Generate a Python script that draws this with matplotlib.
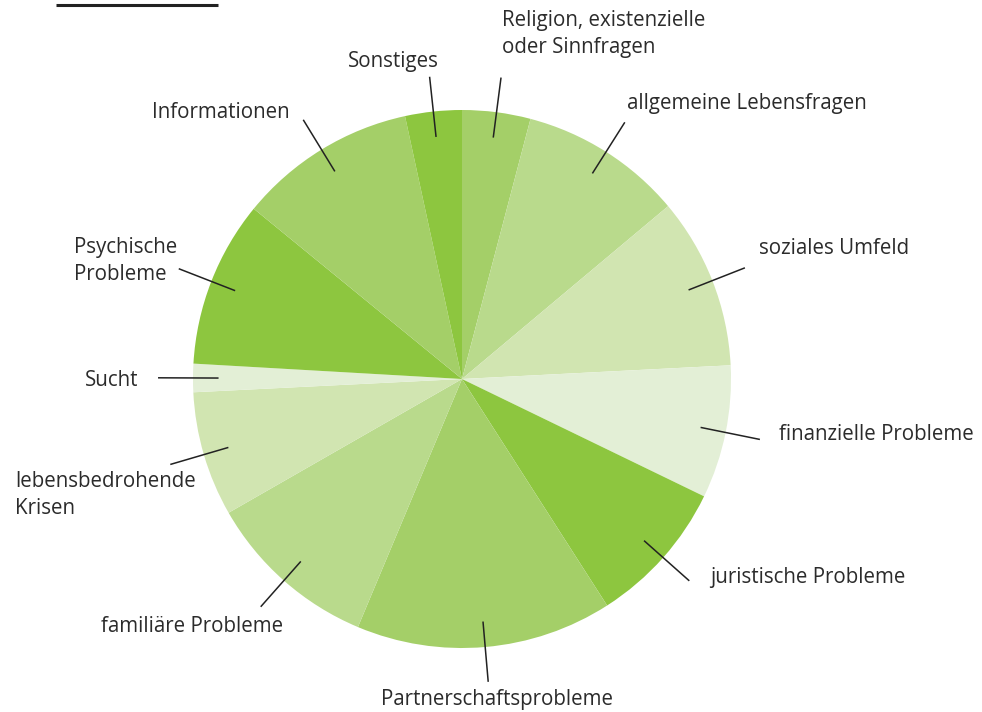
import numpy as np
import matplotlib
matplotlib.use("Agg")
import matplotlib.pyplot as plt

# ---- data (percent shares, clockwise from 12 o'clock) ----
categories = [
    "Religion, existenzielle\noder Sinnfragen",
    "allgemeine Lebensfragen",
    "soziales Umfeld",
    "finanzielle Probleme",
    "juristische Probleme",
    "Partnerschaftsprobleme",
    "familiäre Probleme",
    "lebensbedrohende\nKrisen",
    "Sucht",
    "Psychische\nProbleme",
    "Informationen",
    "Sonstiges",
]
values = [4.1, 9.8, 10.3, 8.0, 8.75, 15.4, 10.4, 7.5, 1.7, 10.0, 10.7, 3.4]

# ---- styling ----
DARK, MED, LMED, LIGHT, LLIGHT = "#8dc63f", "#a4cf68", "#b9da8c", "#d1e5b1", "#e3efd6"
colors = [MED, LMED, LIGHT, LLIGHT, DARK, MED, LMED, LIGHT, LLIGHT, DARK, MED, DARK]

W, H = 982, 712
CX, CY, R = 462, 379, 269  # pixel layout of the pie

fig = plt.figure(figsize=(W / 100, H / 100), dpi=100)
ax = fig.add_axes([0, 0, 1, 1])

wedges, _ = ax.pie(values, colors=colors, startangle=90, counterclock=False,
                   radius=1.0, center=(0, 0), frame=True,
                   wedgeprops=dict(linewidth=0))
ax.set_xlim(-CX / R, (W - CX) / R)
ax.set_ylim(-(H - CY) / R, CY / R)
ax.set_aspect("equal")
ax.axis("off")

def px(x, y):
    return ((x - CX) / R, (CY - y) / R)

# label anchor positions in pixels (x, centre y of the text block, alignment)
label_pos = [
    (502, 34, "left"), (627, 103, "left"), (759, 249, "left"), (779, 435, "left"),
    (710, 578, "left"), (497, 700, "center"), (101, 627, "left"), (15, 495, "left"),
    (85, 381, "left"), (74, 261, "left"), (152, 112, "left"), (348, 61, "left"),
]

for w, lab, (lx, ly, ha) in zip(wedges, categories, label_pos):
    mid = np.deg2rad((w.theta1 + w.theta2) / 2)
    r_in, r_out = 0.905, 1.13
    ax.plot([r_in * np.cos(mid), r_out * np.cos(mid)],
            [r_in * np.sin(mid), r_out * np.sin(mid)],
            color="#222222", lw=1.1, solid_capstyle="butt")
    x, y = px(lx, ly)
    ax.text(x, y, lab, ha=ha, va="center", fontsize=14.8, family="Open Sans",
            color="#2b2b2b", linespacing=1.38)

# underline fragment of a cropped heading at the top-left
x0, y0 = px(56, 5)
x1, _ = px(218, 5)
ax.plot([x0, x1], [y0, y0], color="#222222", lw=2.2, solid_capstyle="butt")

fig.savefig("out.png", dpi=100)
